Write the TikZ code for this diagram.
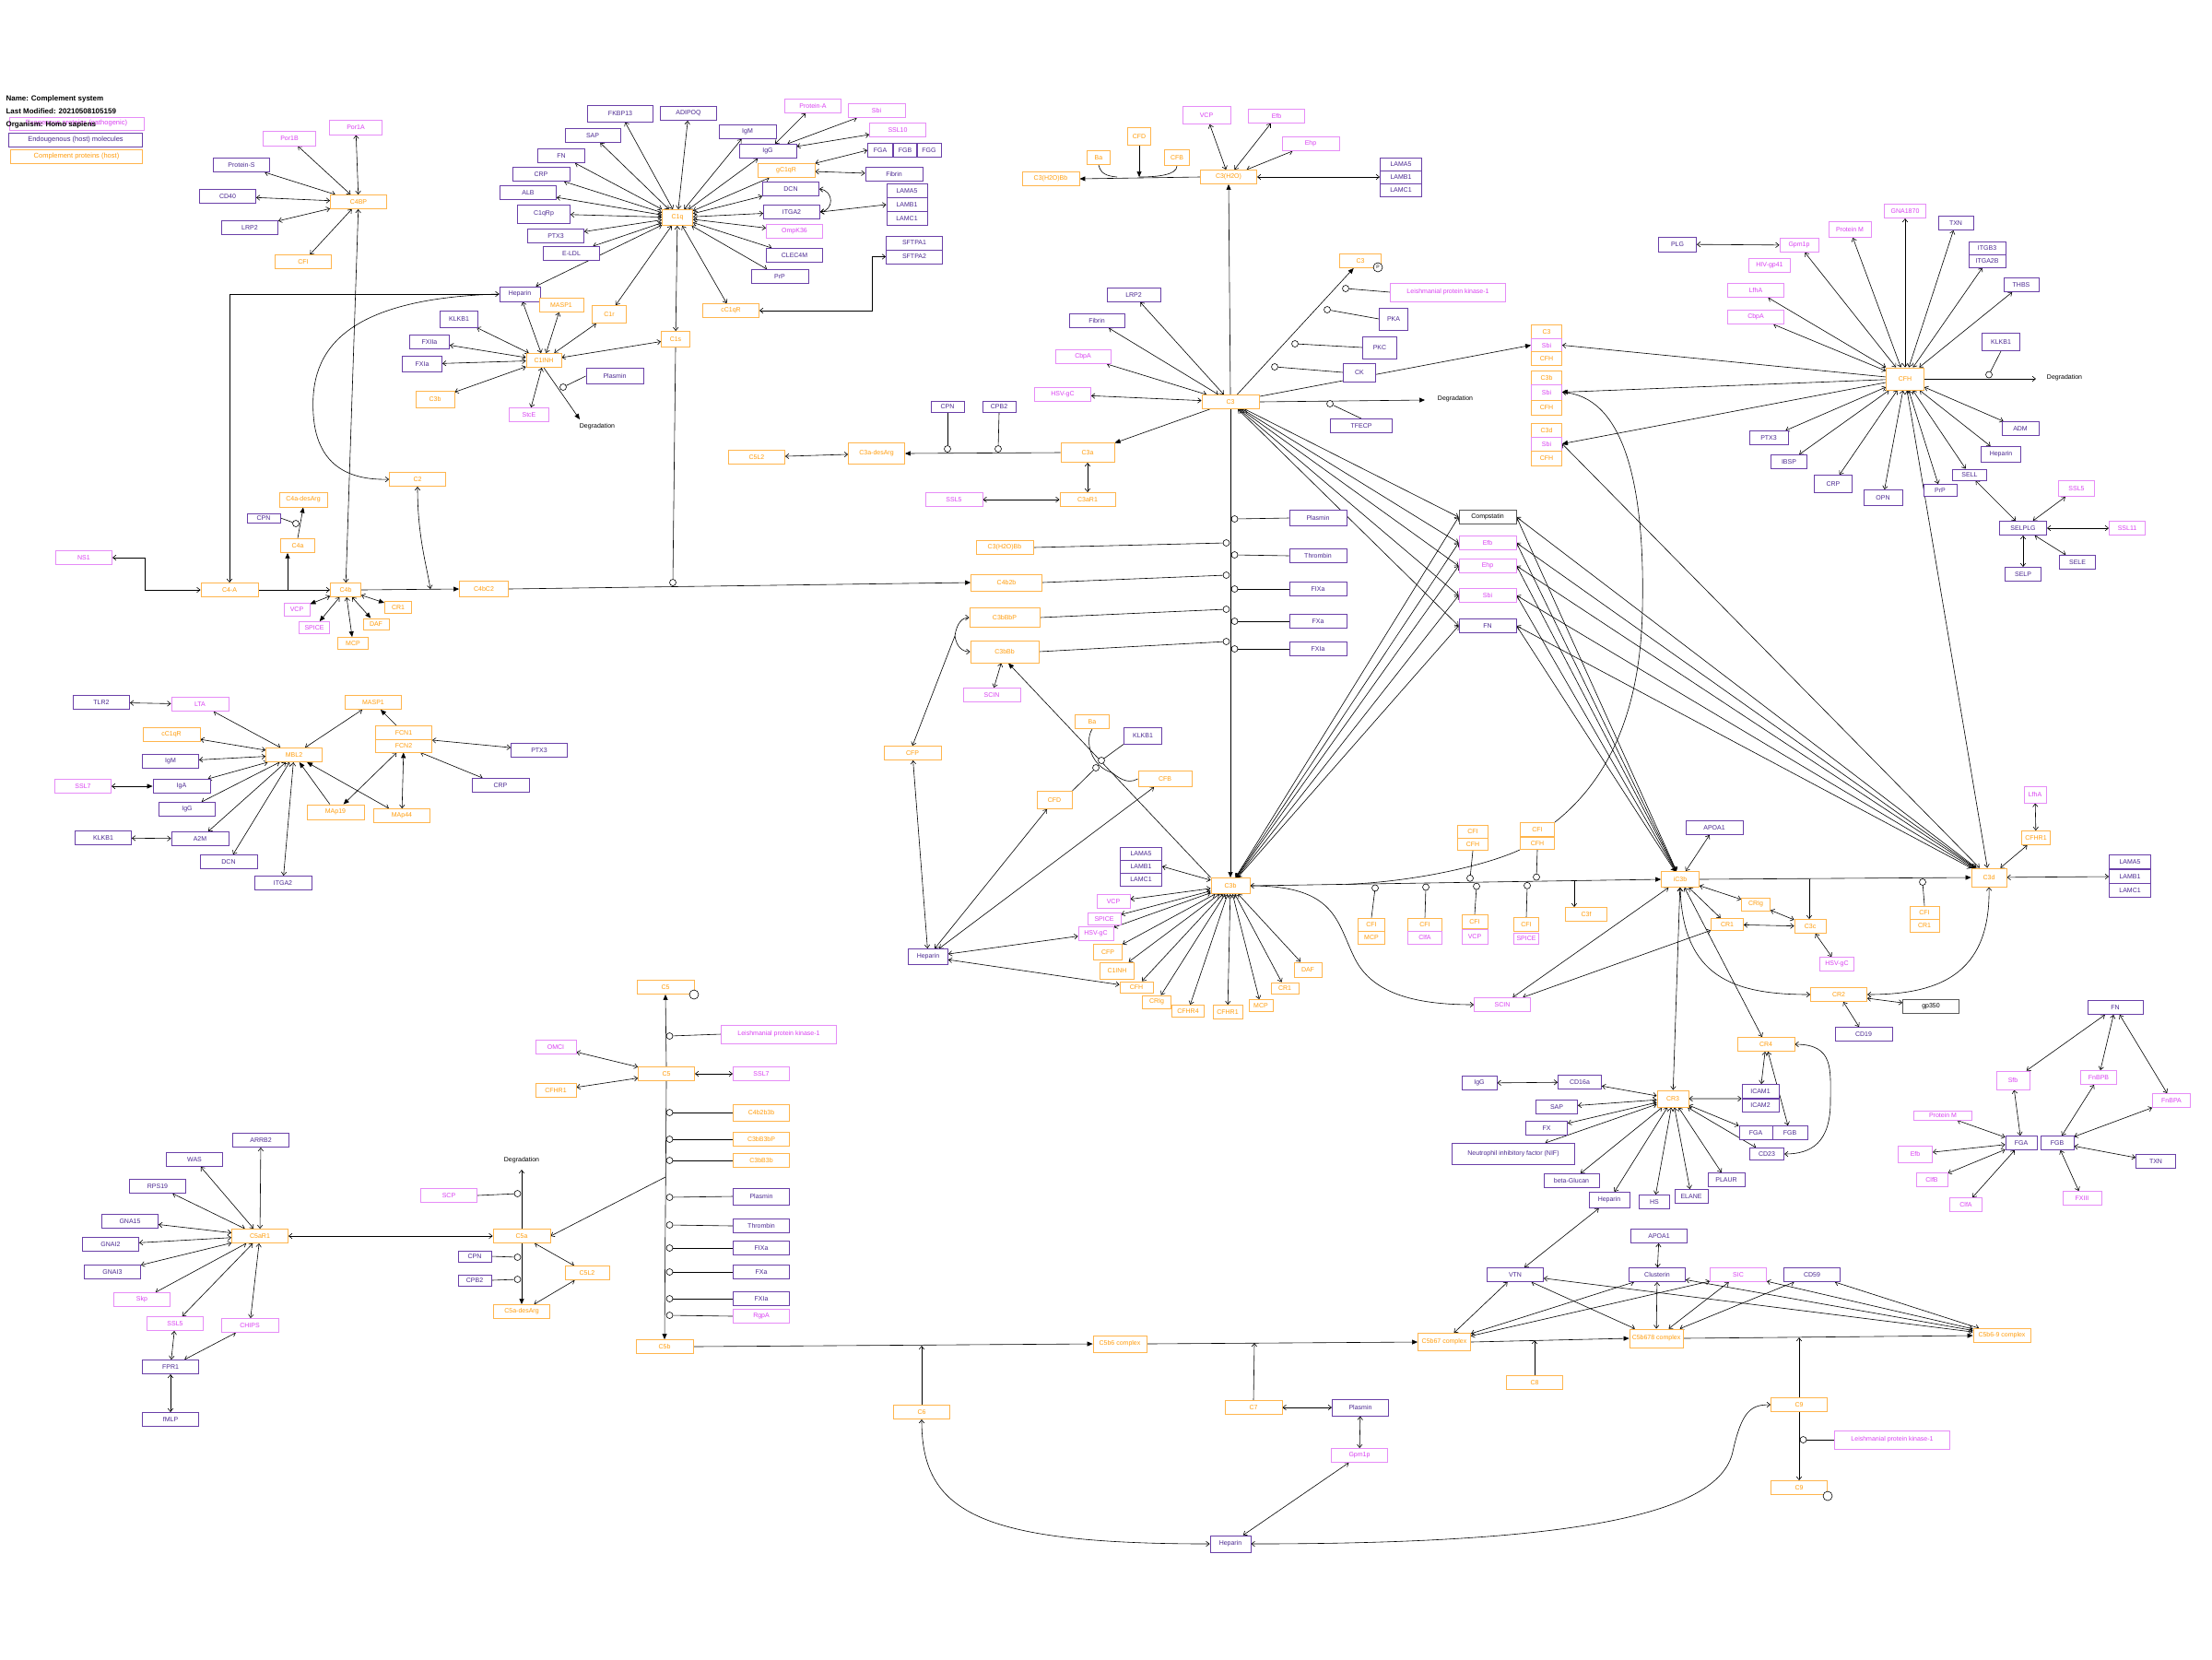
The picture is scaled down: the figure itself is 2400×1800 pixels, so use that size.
\documentclass[tikz,border=0pt]{standalone}
\usepackage{fontspec}
\setmainfont{Liberation Sans}
\usetikzlibrary{arrows.meta, backgrounds}
\definecolor{cpline}{HTML}{FFB54D}
\definecolor{cptext}{HTML}{FF9C0A}
\definecolor{hmline}{HTML}{6A40A8}
\definecolor{hmtext}{HTML}{4A2790}
\definecolor{pmline}{HTML}{E68CF7}
\definecolor{pmtext}{HTML}{D93FF2}
\tikzset{
    >={Straight Barb[length=3.5pt,width=5.5pt]}, % open arrow heads
    gene/.style={draw, rectangle, fill=white, inner sep=0pt, line width=0.9pt,
        minimum width=61pt, minimum height=15pt, font=\fontsize{7}{8}\selectfont},
    cp/.style={gene, draw=cpline, text=cptext}, % complement proteins (host)
    hm/.style={gene, draw=hmline, text=hmtext}, % endogenous (host) molecules
    pm/.style={gene, draw=pmline, text=pmtext}, % exogenous proteins
    ex/.style={gene, draw=black!65, text=black},
    wd/.style={minimum width=#1pt},
    ht/.style={minimum height=#1pt},
    catal/.style={circle, draw, fill=white, inner sep=0pt, minimum size=7pt, line width=0.6pt},
    lbl/.style={font=\fontsize{7}{8}\selectfont},
    interact/.style={<->, line width=0.6pt},
    convert/.style={-{Triangle[length=6pt,width=5pt]}, line width=0.6pt},
    bconv/.style={{Straight Barb[length=3.5pt,width=5.5pt]}-{Triangle[length=6pt,width=5pt]}, line width=0.6pt},
    stim/.style={->, line width=0.6pt},
    lnk/.style={-, line width=0.6pt},
}
\begin{document}
\begin{tikzpicture}[x=1pt, y=-1pt]
\useasboundingbox (0,0) rectangle (2400,1800);

% legend
\node[pm, wd=146, ht=14, font=\fontsize{7.5}{8}\selectfont] (leg1) at (83,134) {Exogenous proteins (pathogenic)};
\node[hm, wd=145, font=\fontsize{7.5}{8}\selectfont] (leg2) at (82,152) {Endougenous (host) molecules};
\node[cp, wd=143, font=\fontsize{7.5}{8}\selectfont] (leg3) at (83,170) {Complement proteins (host)};
\node[anchor=west, font=\bfseries\fontsize{8}{9}\selectfont] (tname) at (3,107) {Name: Complement system};
\node[anchor=west, font=\bfseries\fontsize{8}{9}\selectfont] (tmod) at (3,121) {Last Modified: 20210508105159};
\node[anchor=west, font=\bfseries\fontsize{8}{9}\selectfont] (torg) at (3,135) {Organism: Homo sapiens};

% C4BP
\node[pm, wd=57, ht=16] (por1a) at (386,138) {Por1A};
\node[pm, wd=57, ht=16] (por1b) at (314,150) {Por1B};
\node[hm] (prots) at (262,179) {Protein-S};
\node[hm] (cd40) at (247,213) {CD40};
\node[hm] (lrp2p) at (271,247) {LRP2};
\node[cp] (c4bp) at (389,219) {C4BP};
\node[cp] (cfip) at (329,284) {CFI};

% C1INH
\node[hm, wd=44, ht=16] (hepi) at (564,319) {Heparin};
\node[hm, wd=41, ht=18] (klkb1i) at (498,346) {KLKB1};
\node[hm, wd=43] (fxiiai) at (466,371) {FXIIa};
\node[hm, wd=43, ht=17] (fxiai) at (458,395) {FXIa};
\node[cp, wd=38] (c1inh) at (590,391) {C1INH};
\node[cp, wd=42, ht=18] (c3bi) at (472,433) {C3b};
\node[pm, wd=43] (stce) at (574,450) {StcE};
\node[cp, wd=48] (masp1i) at (609,331) {MASP1};
\node[cp, wd=37, ht=19] (c1r) at (661,341) {C1r};
\node[cp, wd=31, ht=17] (c1s) at (733,368) {C1s};
\node[hm, wd=62, ht=17] (plasi) at (667,408) {Plasmin};
\node[lbl] (dgr1) at (648,463) {Degradation};
\coordinate (dg1) at (629,455);
\node[catal] (k3) at (611,420) {};

% C1q
\node[cp, wd=33, ht=17] (c1q) at (735,236) {C1q};
\node[hm, wd=71, ht=18] (fkbp) at (673,123) {FKBP13};
\node[hm] (adipoq) at (747,123) {ADIPOQ};
\node[hm, wd=60] (sapq) at (643,147) {SAP};
\node[hm, wd=51] (fnq) at (609,169) {FN};
\node[hm, wd=62] (crpq) at (587,189) {CRP};
\node[hm] (albq) at (573,209) {ALB};
\node[hm, wd=57, ht=20] (c1qrp) at (590,232) {C1qRp};
\node[hm] (ptx3q) at (603,256) {PTX3};
\node[hm] (eldl) at (620,275) {E-LDL};
\node[hm, wd=62] (igmq) at (811,143) {IgM};
\node[hm, wd=62] (iggq) at (833,164) {IgG};
\node[pm] (prota) at (882,115) {Protein-A};
\node[pm, wd=62] (sbiq) at (951,120) {Sbi};
\node[pm] (ssl10) at (974,141) {SSL10};
\node[hm, wd=27] (fgaq) at (955,163) {FGA};
\node[hm, wd=25] (fgbq) at (982,163) {FGB};
\node[hm, wd=26] (fggq) at (1008,163) {FGG};
\node[cp, wd=62] (gc1qr) at (853,185) {gC1qR};
\node[hm, wd=62] (fibrq) at (970,189) {Fibrin};
\node[hm] (dcnq) at (858,205) {DCN};
\node[hm, wd=44, ht=14.5] (lama5q) at (984,207) {LAMA5};
\node[hm, wd=44, ht=14.5] (lamb1q) at (984,222) {LAMB1};
\node[hm, wd=44, ht=14.5] (lamc1q) at (984,237) {LAMC1};
\node[hm] (itga2q) at (859,230) {ITGA2};
\node[pm] (ompk) at (862,251) {OmpK36};
\node[hm] (clec) at (862,277) {CLEC4M};
\node[hm] (sftpa1) at (992,263.5) {SFTPA1};
\node[hm] (sftpa2) at (992,278.5) {SFTPA2};
\node[hm, wd=62] (prpq) at (846,300) {PrP};
\node[cp] (cc1qrq) at (793,337) {cC1qR};

% C4
\node[cp] (c2) at (453,520) {C2};
\node[cp, wd=52, ht=16] (c4ades) at (329,542) {C4a-desArg};
\node[hm, wd=36, ht=10] (cpn4) at (286,562) {CPN};
\node[cp, wd=37] (c4a) at (323,592) {C4a};
\node[pm] (ns1) at (91,605) {NS1};
\node[cp, wd=62] (c4x) at (249,640) {C4-A};
\node[cp, wd=33] (c4b) at (375,640) {C4b};
\node[cp, wd=53, ht=17] (c4bc2) at (525,639) {C4bC2};
\node[pm, wd=28, ht=14] (vcp4) at (322,661) {VCP};
\node[pm, wd=33, ht=13] (spice4) at (341,681) {SPICE};
\node[cp, wd=28, ht=12] (daf4) at (408,677) {DAF};
\node[cp, wd=29, ht=13] (cr14) at (432,659) {CR1};
\node[cp, wd=33, ht=13] (mcp4) at (383,698) {MCP};
\node[catal] (k1) at (321,568) {};
\node[catal] (k2) at (730,632) {};
\coordinate (j1) at (312,640);
\coordinate (j2) at (467,639);

% MBL2
\node[hm] (tlr2) at (110,762) {TLR2};
\node[pm, wd=62] (ltam) at (217,764) {LTA};
\node[cp] (masp1m) at (405,762) {MASP1};
\node[cp, wd=62] (cc1qrm) at (186,797) {cC1qR};
\node[cp] (fcn1) at (438,795) {FCN1};
\node[cp, ht=14] (fcn2) at (438,809) {FCN2};
\node[cp] (mbl2) at (319,819) {MBL2};
\node[hm] (igmm) at (185,826) {IgM};
\node[hm] (ptx3m) at (585,814) {PTX3};
\node[pm] (ssl7m) at (90,853) {SSL7};
\node[hm, wd=62] (igam) at (197,853) {IgA};
\node[hm, wd=62] (crpm) at (543,852) {CRP};
\node[hm] (iggm) at (203,878) {IgG};
\node[cp, wd=62, ht=16] (map19) at (364,881) {MAp19};
\node[cp] (map44) at (436,885) {MAp44};
\node[hm] (klkb1m) at (112,909) {KLKB1};
\node[hm, wd=62] (a2m) at (217,910) {A2M};
\node[hm, wd=62] (dcnm) at (248,935) {DCN};
\node[hm, wd=62] (itga2m) at (307,958) {ITGA2};

% C3(H2O)
\node[cp, wd=62] (c3h2obbt) at (1140,194) {C3(H2O)Bb};
\node[cp, wd=25] (bat) at (1192,171) {Ba};
\node[cp, wd=25, ht=19] (cfdt) at (1236,148) {CFD};
\node[cp, wd=27, ht=17] (cfbt) at (1277,171) {CFB};
\node[cp] (c3h2o) at (1333,192) {C3(H2O)};
\node[pm, wd=52, ht=19] (vcpt) at (1309,125) {VCP};
\node[pm] (efbt) at (1385,126) {Efb};
\node[pm, wd=62] (ehpt) at (1422,156) {Ehp};
\node[hm, wd=45, ht=14] (lama5t) at (1520,178) {LAMA5};
\node[hm, wd=45, ht=14] (lamb1t) at (1520,192) {LAMB1};
\node[hm, wd=45, ht=14] (lamc1t) at (1520,206) {LAMC1};
\coordinate (j3) at (1236,192);
\coordinate (j3b) at (1212,192);

% C3
\node[cp, wd=62] (c3) at (1335,436) {C3};
\node[hm, wd=58] (lrp2c) at (1230,320) {LRP2};
\node[hm, wd=60] (fibrc) at (1190,348) {Fibrin};
\node[pm, wd=60] (cbpac) at (1175,387) {CbpA};
\node[pm] (hsvc3) at (1153,428) {HSV-gC};
\node[cp, wd=45] (c3p) at (1476,283) {C3};
\node[catal, minimum size=10pt, font=\fontsize{5}{5}\selectfont] (pc) at (1495,290) {P};
\node[pm, wd=125, ht=20] (leishk) at (1571,317) {Leishmanial protein kinase-1};
\node[hm, wd=31, ht=24] (pka) at (1512,346) {PKA};
\node[hm, wd=37, ht=24] (pkc) at (1497,377) {PKC};
\node[hm, wd=35, ht=20] (ck) at (1475,404) {CK};
\node[hm, wd=67] (tfecp) at (1477,462) {TFECP};
\node[lbl] (dgr2) at (1579,433) {Degradation};
\coordinate (dg2) at (1546,434);
\node[catal] (k4) at (1460,313) {};
\node[catal] (k5) at (1440,336) {};
\node[catal] (k6) at (1405,373) {};
\node[catal] (k7) at (1383,398) {};
\node[catal] (k8) at (1443,438) {};
\node[cp, wd=33, ht=14.5] (c3s1) at (1678,360) {C3};
\node[pm, wd=33, ht=14.5] (sbis1) at (1678,374.5) {Sbi};
\node[cp, wd=33, ht=14.5] (cfhs1) at (1678,389) {CFH};
\node[cp, wd=33, ht=15] (c3bs2) at (1678,409.5) {C3b};
\node[pm, wd=33, ht=17] (sbis2) at (1678,425.5) {Sbi};
\node[cp, wd=33, ht=16] (cfhs2) at (1678,442) {CFH};
\node[cp, wd=33, ht=15] (c3ds3) at (1678,466.5) {C3d};
\node[pm, wd=33, ht=15] (sbis3) at (1678,481.5) {Sbi};
\node[cp, wd=33, ht=16] (cfhs3) at (1678,497) {CFH};
\node[ex, wd=62] (compst) at (1614,561) {Compstatin};
\node[pm, wd=62] (efbx) at (1614,589) {Efb};
\node[pm, wd=62] (ehpx) at (1614,614) {Ehp};
\node[pm, wd=62] (sbix) at (1614,646) {Sbi};
\node[hm, wd=62] (fnx) at (1614,679) {FN};
\node[hm, wd=62, ht=17] (plasx) at (1430,562) {Plasmin};
\node[hm, wd=62] (thrx) at (1430,603) {Thrombin};
\node[hm, wd=62] (fixax) at (1430,639) {FIXa};
\node[hm, wd=62] (fxax) at (1430,674) {FXa};
\node[hm, wd=62] (fxiax) at (1430,704) {FXIa};
\node[catal] (k11) at (1330.5,589) {};
\node[catal] (k12) at (1330.5,624) {};
\node[catal] (k13) at (1330.5,661) {};
\node[catal] (k14) at (1330.5,696) {};
\node[catal] (k15) at (1339.5,563) {};
\node[catal] (k16) at (1339.5,602) {};
\node[catal] (k17) at (1339.5,639) {};
\node[catal] (k18) at (1339.5,674) {};
\node[catal] (k19) at (1339.5,704) {};

% C3a and convertases
\node[cp, wd=58, ht=21] (c3a) at (1180,491) {C3a};
\node[cp, wd=61, ht=23] (c3ades) at (951,492) {C3a-desArg};
\node[cp] (c5l2a) at (821,496) {C5L2};
\node[hm, wd=36, ht=12] (cpn3) at (1028,441) {CPN};
\node[hm, wd=36, ht=12] (cpb23) at (1084,441) {CPB2};
\node[catal] (k9) at (1028,487) {};
\node[catal] (k10) at (1083,487) {};
\node[cp, wd=60] (c3ar1) at (1180,542) {C3aR1};
\node[pm, wd=62] (ssl5a) at (1035,542) {SSL5};
\node[cp, wd=62] (c3h2obbl) at (1090,594) {C3(H2O)Bb};
\node[cp, wd=77, ht=18] (c4b2b) at (1092,632) {C4b2b};
\node[cp, wd=76, ht=21] (c3bbbp) at (1090,670) {C3bBbP};
\node[cp, wd=74, ht=24] (c3bbb) at (1090,707) {C3bBb};
\node[pm, wd=62] (scinl) at (1076,754) {SCIN};
\node[cp, wd=62] (cfp) at (990,817) {CFP};
\node[cp, wd=37] (bal) at (1185,783) {Ba};
\node[hm, wd=41, ht=18] (klkb1b) at (1240,798) {KLKB1};
\node[cp, wd=58, ht=17] (cfbl) at (1264,845) {CFB};
\node[cp, wd=38, ht=19] (cfdl) at (1144,868) {CFD};
\node[hm, wd=43, ht=17] (hepb) at (1007,1038) {Heparin};
\node[catal] (k20) at (1195,825) {};
\node[catal] (k21) at (1189,833) {};
\coordinate (j4) at (1036,690);
\coordinate (j5) at (1206,838);

% C3b
\node[cp, wd=42, ht=17] (c3b) at (1335,961) {C3b};
\node[hm, wd=45, ht=14] (lama5b) at (1238,926) {LAMA5};
\node[hm, wd=45, ht=14] (lamb1b) at (1238,940) {LAMB1};
\node[hm, wd=45, ht=14] (lamc1b) at (1238,954) {LAMC1};
\node[pm, wd=36, ht=15] (vcpb) at (1208,978) {VCP};
\node[pm, wd=36, ht=13] (spiceb) at (1198,997) {SPICE};
\node[pm, wd=38] (hsvb) at (1189,1013) {HSV-gC};
\node[cp, wd=31, ht=17] (cfpb) at (1202,1033) {CFP};
\node[cp, wd=37, ht=18] (c1inhb) at (1212,1053) {C1INH};
\node[cp, wd=36, ht=12] (cfhb) at (1233,1071) {CFH};
\node[cp, wd=31, ht=14] (crigb) at (1255,1087) {CRIg};
\node[cp, wd=35, ht=13] (cfhr4) at (1289,1097) {CFHR4};
\node[cp, wd=32, ht=15] (cfhr1b) at (1332,1098) {CFHR1};
\node[cp, wd=26, ht=13] (mcpb) at (1368,1091) {MCP};
\node[cp, wd=30, ht=12] (cr1b) at (1394,1072) {CR1};
\node[cp, wd=30, ht=16] (dafb) at (1419,1052) {DAF};
\node[cp, wd=33, ht=14] (cfia1) at (1598,902) {CFI};
\node[cp, wd=33, ht=13] (cfha1) at (1598,916) {CFH};
\node[cp, wd=37, ht=15] (cfia2) at (1668,900) {CFI};
\node[cp, wd=37, ht=13] (cfha2) at (1668,915) {CFH};
\node[cp, wd=29, ht=14] (cfib1) at (1488,1003) {CFI};
\node[cp, wd=29, ht=14] (mcpb1) at (1488,1017) {MCP};
\node[cp, wd=37, ht=14] (cfib2) at (1546,1003) {CFI};
\node[pm, wd=37, ht=14] (clfab2) at (1546,1017) {ClfA};
\node[cp, wd=28, ht=15] (cfib3) at (1600,1000) {CFI};
\node[pm, wd=28, ht=16] (vcpb3) at (1600,1016) {VCP};
\node[cp, wd=27, ht=15] (cfib4) at (1656,1003) {CFI};
\node[pm, wd=27, ht=12] (spiceb4) at (1656,1018) {SPICE};
\node[cp, wd=45] (c3f) at (1721,992) {C3f};
\node[pm] (scinr) at (1630,1090) {SCIN};
\node[catal] (k22) at (1595,952.8) {};
\node[catal] (k23) at (1667,951.6) {};
\node[catal] (k24) at (1492,963.4) {};
\node[catal] (k25) at (1547,962.5) {};
\node[catal] (k26) at (1602,961.6) {};
\node[catal] (k27) at (1657,960.8) {};
\coordinate (j6) at (1708,956.3);
\coordinate (j7) at (1460,959.4);

% iC3b
\node[cp, wd=41, ht=17] (ic3b) at (1823,954) {iC3b};
\node[hm, wd=62] (apoa1i) at (1860,898) {APOA1};
\node[cp, wd=31, ht=14] (crigi) at (1905,981) {CRIg};
\node[cp, wd=35, ht=13] (cr1i) at (1874,1003) {CR1};
\node[cp, wd=34] (c3c) at (1964,1005) {C3c};
\node[pm, wd=37] (hsvi) at (1993,1046) {HSV-gC};
\node[cp, wd=32, ht=14] (cfic) at (2088,990) {CFI};
\node[cp, wd=32, ht=14] (cr1c) at (2088,1004) {CR1};
\node[catal] (k28) at (2086,957) {};
\node[cp, wd=38, ht=20] (c3d) at (2158,952) {C3d};
\node[cp, wd=31] (cfhr1d) at (2209,909) {CFHR1};
\node[pm, wd=24, ht=18] (lfhad) at (2208,862) {LfhA};
\node[hm, wd=45] (lama5d) at (2311,935) {LAMA5};
\node[hm, wd=45] (lamb1d) at (2311,951) {LAMB1};
\node[hm, wd=45] (lamc1d) at (2311,966) {LAMC1};
\node[cp] (cr2) at (1995,1079) {CR2};
\node[ex] (gp350) at (2095,1092) {gp350};
\node[hm, wd=62] (cd19) at (2022,1122) {CD19};
\node[cp, wd=62] (cr4) at (1916,1133) {CR4};
\coordinate (j8) at (1963,954);

% CFH
\node[cp, wd=41, ht=24] (cfh) at (2067,411) {CFH};
\node[hm, wd=41, ht=16] (plg) at (1820,265) {PLG};
\node[pm, wd=42] (gpm1h) at (1952,266) {Gpm1p};
\node[pm, wd=45] (hivgp) at (1920,288) {HIV-gp41};
\node[pm] (lfhah) at (1905,315) {LfhA};
\node[pm] (cbpah) at (1905,344) {CbpA};
\node[pm, wd=46, ht=17] (protmh) at (2007,249) {Protein M};
\node[pm, wd=45] (gna) at (2067,229) {GNA1870};
\node[hm, wd=38] (txnh) at (2122,242) {TXN};
\node[hm, wd=40, ht=14] (itgb3) at (2156,269) {ITGB3};
\node[hm, wd=40, ht=14] (itgaiib) at (2156,283) {ITGA2B};
\node[hm, wd=38] (thbs) at (2193,309) {THBS};
\node[hm, wd=41, ht=19] (klkb1h) at (2171,371) {KLKB1};
\node[lbl] (dgr3) at (2240,410) {Degradation};
\coordinate (dg3) at (2209,411);
\node[catal] (k29) at (2158,406.5) {};
\node[hm, wd=40] (adm) at (2192,465) {ADM};
\node[hm, wd=43, ht=17] (heph) at (2171,493) {Heparin};
\node[hm, wd=37, ht=12] (sell) at (2137,515) {SELL};
\node[hm, wd=36, ht=13] (prph) at (2105,532) {PrP};
\node[hm, wd=42, ht=17] (opn) at (2043,540) {OPN};
\node[hm, wd=41, ht=19] (crph) at (1989,525) {CRP};
\node[hm, wd=39] (ibsp) at (1941,501) {IBSP};
\node[hm, wd=42] (ptx3h) at (1919,475) {PTX3};
\node[hm, wd=51] (selplg) at (2195,573) {SELPLG};
\node[pm, wd=39, ht=17] (ssl5h) at (2253,530) {SSL5};
\node[pm, wd=39] (ssl11) at (2308,573) {SSL11};
\node[hm, wd=39] (sele) at (2254,610) {SELE};
\node[hm, wd=39] (selp) at (2195,623) {SELP};

% CR3
\node[cp, wd=34, ht=18] (cr3) at (1815,1192) {CR3};
\node[hm, wd=40] (icam1) at (1910,1184) {ICAM1};
\node[hm, wd=40, ht=14] (icam2) at (1910,1199) {ICAM2};
\node[hm, wd=36] (fgar) at (1905,1229) {FGA};
\node[hm, wd=38] (fgbr) at (1942,1229) {FGB};
\node[hm, wd=37, ht=13] (cd23) at (1917,1252) {CD23};
\node[hm, wd=40] (plaur) at (1873,1280) {PLAUR};
\node[hm, wd=36] (elane) at (1835,1298) {ELANE};
\node[hm, wd=33] (hs) at (1795,1304) {HS};
\node[hm, wd=44, ht=17] (hepr) at (1746,1302) {Heparin};
\node[hm, wd=60] (betag) at (1705,1281) {beta-Glucan};
\node[hm, wd=133, ht=23] (nif) at (1642,1252) {Neutrophil inhibitory factor (NIF)};
\node[hm, wd=45] (fxr) at (1678,1224) {FX};
\node[hm, wd=45] (sapr) at (1689,1201) {SAP};
\node[hm, wd=47] (cd16a) at (1714,1174) {CD16a};
\node[hm, wd=38] (iggr) at (1605,1175) {IgG};

% FN (bacterial binding)
\node[hm, wd=60] (fnf) at (2295,1093) {FN};
\node[pm, wd=36, ht=20] (sfb) at (2184,1172) {Sfb};
\node[pm, wd=39] (fnbpb) at (2277,1169) {FnBPB};
\node[pm, wd=41] (fnbpa) at (2356,1194) {FnBPA};
\node[pm, wd=63, ht=10] (protmf) at (2108,1210) {Protein M};
\node[hm, wd=34] (fgaf) at (2193,1240) {FGA};
\node[hm, wd=36] (fgbf) at (2232,1240) {FGB};
\node[pm, wd=37, ht=18] (efbf) at (2078,1252) {Efb};
\node[pm, wd=34] (clfb) at (2096,1280) {ClfB};
\node[pm, wd=35] (clfa) at (2133,1307) {ClfA};
\node[hm, wd=43] (txnf) at (2339,1260) {TXN};
\node[pm, wd=42] (fxiii) at (2259,1300) {FXIII};

% terminal complexes
\node[cp, wd=58, ht=18] (c5b6) at (1215,1458) {C5b6 complex};
\node[cp, wd=57, ht=19] (c5b67) at (1567,1456) {C5b67 complex};
\node[cp, wd=58, ht=20] (c5b678) at (1797,1452) {C5b678 complex};
\node[cp, wd=62] (c5b69) at (2172,1449) {C5b6-9 complex};
\node[cp] (c6) at (1000,1532) {C6};
\node[cp, wd=62] (c7) at (1360,1527) {C7};
\node[hm, ht=18] (plasl) at (1476,1527) {Plasmin};
\node[pm] (gpm1l) at (1475,1579) {Gpm1p};
\node[hm, wd=44, ht=18] (hepl) at (1335,1675) {Heparin};
\node[cp] (c8) at (1665,1500) {C8};
\node[cp] (c9a) at (1952,1524) {C9};
\node[pm, wd=125, ht=20] (leishn) at (2053,1562) {Leishmanial protein kinase-1};
\node[cp] (c9b) at (1952,1614) {C9};
\node[catal, minimum size=10pt] (c9c) at (1983,1623) {};
\node[catal] (k43) at (1956.5,1562) {};
\node[hm] (vtn) at (1644,1383) {VTN};
\node[hm] (apoa1l) at (1800,1341) {APOA1};
\node[hm] (clus) at (1798,1383) {Clusterin};
\node[pm] (sic) at (1886,1383) {SIC};
\node[hm] (cd59) at (1966,1383) {CD59};
\coordinate (j9) at (1000,1460);
\coordinate (j10) at (1361,1457);
\coordinate (j11) at (1665,1454);
\coordinate (j12) at (1952,1451);

% C5
\node[cp, wd=62] (c5t) at (722,1071) {C5};
\node[catal, minimum size=10pt] (c5c) at (753,1079) {};
\node[pm, wd=125, ht=20] (leishc) at (845,1122) {Leishmanial protein kinase-1};
\node[pm, wd=44] (omci) at (603,1136) {OMCI};
\node[cp] (c5) at (723,1165) {C5};
\node[pm] (ssl7c) at (826,1165) {SSL7};
\node[cp, wd=44] (cfhr1c) at (603,1183) {CFHR1};
\node[cp, ht=18] (c4b2b3b) at (826,1207) {C4b2b3b};
\node[cp] (c3bb3bp) at (826,1236) {C3bB3bP};
\node[cp] (c3bb3b) at (826,1259) {C3bB3b};
\node[hm, ht=18] (plasc) at (826,1298) {Plasmin};
\node[hm] (thrc) at (826,1330) {Thrombin};
\node[hm] (fixac) at (826,1354) {FIXa};
\node[hm] (fxac) at (826,1380) {FXa};
\node[hm] (fxiac) at (826,1409) {FXIa};
\node[pm] (rgpa) at (826,1428) {RgpA};
\node[cp, wd=62] (c5b) at (721,1461) {C5b};
\node[cp, wd=48] (c5l2b) at (637,1381) {C5L2};
\node[cp, wd=62] (c5a) at (566,1341) {C5a};
\node[cp] (c5ades) at (566,1423) {C5a-desArg};
\node[hm, wd=36, ht=12] (cpnc) at (515,1363) {CPN};
\node[hm, wd=36, ht=12] (cpb2c) at (515,1389) {CPB2};
\node[pm] (scp) at (487,1297) {SCP};
\node[lbl] (dgr4) at (566,1259) {Degradation};
\coordinate (dg4) at (566,1269);
\node[catal] (k30) at (726.5,1124) {};
\node[catal] (k31) at (726.5,1207) {};
\node[catal] (k32) at (726.5,1236) {};
\node[catal] (k33) at (726.5,1259) {};
\node[catal] (k34) at (726.5,1299) {};
\node[catal] (k35) at (726.5,1329) {};
\node[catal] (k36) at (726.5,1354) {};
\node[catal] (k37) at (726.5,1380) {};
\node[catal] (k38) at (726.5,1409) {};
\node[catal] (k39) at (726.5,1427) {};
\node[catal] (k40) at (561.5,1295) {};
\node[catal] (k41) at (561.5,1364) {};
\node[catal] (k42) at (561.5,1388) {};
\coordinate (j13) at (722,1277);
\node[cp] (c5ar1) at (282,1341) {C5aR1};
\node[hm] (arrb2) at (283,1237) {ARRB2};
\node[hm] (was) at (211,1258) {WAS};
\node[hm] (rps19) at (171,1287) {RPS19};
\node[hm] (gna15) at (141,1325) {GNA15};
\node[hm] (gnai2) at (120,1350) {GNAI2};
\node[hm] (gnai3) at (122,1380) {GNAI3};
\node[pm] (skp) at (154,1410) {Skp};
\node[pm] (ssl5c) at (190,1436) {SSL5};
\node[pm, wd=62] (chips) at (271,1438) {CHIPS};
\node[hm] (fpr1) at (185,1483) {FPR1};
\node[hm] (fmlp) at (185,1540) {fMLP};

\begin{pgfonlayer}{background}
% C4BP and C1 complex
\draw[interact] (c4bp) edge (por1a) edge (por1b) edge (prots) edge (cd40) edge (lrp2p) edge (cfip) edge (c4b);
\draw[interact] (c1inh) edge (hepi) edge (klkb1i) edge (fxiiai) edge (fxiai) edge (c3bi) edge (stce) edge (masp1i) edge (c1r) edge (c1s);
\draw[convert] (c1inh.south) -- (dg1);
\draw[lnk] (plasi.west) -- (k3);
\draw[interact] (c1q) edge (fkbp) edge (adipoq) edge (sapq) edge (fnq) edge (crpq) edge (albq) edge (c1qrp)
    edge (ptx3q) edge (eldl) edge (igmq) edge (iggq) edge (gc1qr) edge (dcnq) edge (itga2q) edge (ompk)
    edge (clec) edge (prpq) edge (cc1qrq) edge (c1r) edge (c1s) edge (hepi);
\draw[interact] (iggq) edge (prota) edge (sbiq) edge (ssl10);
\draw[interact] (gc1qr) edge (fgaq.west) edge (fibrq);
\draw[interact] (dcnq.east) .. controls (905,207) and (905,228) .. (itga2q.east);
\draw[interact] (itga2q.east) -- (lamb1q.west);
\draw[interact] (cc1qrq.east) -- (946,337) |- (sftpa2.west);

% C4 cleavage
\draw[interact] (c4x.west) -- (157,640) |- (ns1.east);
\draw[interact] (hepi.west) -| (c4x.north);
\draw[stim] (hepi.west) .. controls (360,324) and (336,390) .. (340,450) .. controls (344,510) and (385,521) .. (c2.west);
\draw[stim] (c4x.east) -- (c4b.west);
\draw[convert] (j1) -- (j1 |- c4a.south);
\draw[convert] (c4a.north) -- (c4ades.south);
\draw[lnk] (cpn4.east) -- (k1);
\draw[convert] (c4b.east) -- (c4bc2.west);
\draw[interact] (c2.south) .. controls (453,580) and (462,610) .. (j2);
\draw[bconv] (c4b) edge (vcp4) edge (spice4) edge (mcp4) edge (daf4) edge (cr14);
\draw[convert] (c4bc2.east) -- (c4b2b.west);
\draw[lnk] (c1s.south) -- (k2);

% MBL2 and ficolins
\draw[interact] (mbl2) edge (ltam) edge (cc1qrm) edge (igmm) edge (igam) edge (iggm) edge (a2m) edge (dcnm) edge (itga2m) edge (masp1m);
\draw[interact] (tlr2) -- (ltam);
\draw[interact] (klkb1m) -- (a2m);
\draw[bconv] (ssl7m) -- (igam);
\draw[convert] (map19) -- (mbl2);
\draw[bconv] (map44) -- (mbl2);
\draw[convert] (fcn1) -- (masp1m);
\draw[bconv] (fcn2) -- (map19);
\draw[bconv] (map44) -- (fcn2);
\draw[interact] (fcn1.south east) -- (ptx3m);
\draw[interact] (fcn2) -- (crpm);

% C3(H2O)
\draw[convert] (c3h2o.west) -- (c3h2obbt.east);
\draw[convert] (cfdt.south) -- (j3);
\draw[lnk] (cfbt.south) .. controls (1277,190) and (1255,192) .. (j3);
\draw[lnk] (bat.south) .. controls (1194,188) and (1200,191) .. (j3b);
\draw[interact] (c3h2o) edge (vcpt) edge (efbt) edge (ehpt);
\draw[interact] (c3h2o.east) -- (lamb1t.west);
\draw[convert] (c3.north) -- (c3h2o.south);

% C3
\draw[interact] (c3) edge (lrp2c) edge (fibrc) edge (cbpac) edge (hsvc3);
\draw[convert] (c3) -- (c3a);
\draw[convert] (c3) -- (c3p);
\draw[lnk] (leishk.west) -- (k4);
\draw[lnk] (pka.west) -- (k5);
\draw[lnk] (pkc.west) -- (k6);
\draw[lnk] (ck.west) -- (k7);
\draw[convert] (c3.east) -- (dg2);
\draw[lnk] (tfecp.north) -- (k8);
\draw[convert] (c3) -- (sbis1.west);
\draw[interact] (c3) edge (compst.west) edge (efbx.west) edge (ehpx.west) edge (sbix.west) edge (fnx.west);
\draw[convert] (c3a.west) -- (c3ades.east);
\draw[lnk] (cpn3.south) -- (k9);
\draw[lnk] (cpb23.south) -- (k10);
\draw[interact] (c3ades) -- (c5l2a);
\draw[interact] (c3a) -- (c3ar1);
\draw[interact] (c3ar1) -- (ssl5a);
\draw[convert] (c3.south) -- (c3b.north);
\draw[lnk] (c3h2obbl.east) -- (k11);
\draw[lnk] (c4b2b.east) -- (k12);
\draw[lnk] (c3bbbp.east) -- (k13);
\draw[lnk] (c3bbb.east) -- (k14);
\draw[lnk] (plasx.west) -- (k15);
\draw[lnk] (thrx.west) -- (k16);
\draw[lnk] (fixax.west) -- (k17);
\draw[lnk] (fxax.west) -- (k18);
\draw[lnk] (fxiax.west) -- (k19);

% C3b
\draw[interact] (c3b) edge (lamb1b.east) edge (vcpb) edge (spiceb) edge (hsvb) edge (cfpb) edge (c1inhb) edge (cfhb)
    edge (crigb) edge (cfhr4) edge (cfhr1b) edge (mcpb) edge (cr1b) edge (dafb);
\draw[interact] (c3b) edge (compst.west) edge (efbx.west) edge (ehpx.west) edge (sbix.west) edge (fnx.west);
\draw[interact] (hepb) edge (cfp) edge (cfdl) edge (cfbl) edge (hsvb) edge (cfhb);
\draw[stim] (j4) -- (cfp.north);
\draw[stim] (j4) .. controls (1038,676) and (1044,670) .. (c3bbbp.west);
\draw[stim] (j4) .. controls (1038,702) and (1044,707) .. (c3bbb.west);
\draw[interact] (c3bbb) -- (scinl);
\draw[convert] (c3b.north west) -- ([xshift=4pt]c3bbb.south);
\draw[lnk] (klkb1b.south west) -- (k20);
\draw[lnk] (cfdl.north east) -- (k21);
\draw[lnk] (bal.south) .. controls (1176,805) and (1185,832) .. (j5);
\draw[lnk] (cfbl.west) .. controls (1222,852) and (1212,842) .. (j5);
\draw[convert] (c3b.east) -- (ic3b.west);
\draw[lnk] (cfha1.south) -- (k22);
\draw[lnk] (cfha2.south) -- (k23);
\draw[lnk] (cfib1.north) -- (k24);
\draw[lnk] (cfib2.north) -- (k25);
\draw[lnk] (cfib3.north) -- (k26);
\draw[lnk] (cfib4.north) -- (k27);
\draw[stim] (j6) -- (j6 |- c3f.north);
\draw[lnk] (cfha2.south west) .. controls (1610,940) and (1530,957) .. (j7);
\draw[stim] (cfia2.north east) .. controls (1740,850) and (1780,780) .. (1782,660) .. controls (1785,520) and (1760,430) .. (sbis2.east);
\draw[interact] (c3b.east) .. controls (1450,961) and (1450,1000) .. (1470,1040) .. controls (1490,1080) and (1540,1090) .. (scinr.west);
\draw[interact] (ic3b) -- (scinr);
\draw[interact] (cr1i) -- (scinr);

% iC3b and C3d
\draw[interact] (ic3b) edge (compst.east) edge (efbx.east) edge (ehpx.east) edge (sbix.east) edge (fnx.east);
\draw[interact] (c3d) edge (compst.east) edge (efbx.east) edge (ehpx.east) edge (sbix.east) edge (fnx.east);
\draw[interact] (ic3b) edge (apoa1i) edge (crigi) edge (cr1i) edge (cr4) edge (cr3);
\draw[interact] (c3c) edge (crigi) edge (cr1i) edge (hsvi);
\draw[convert] (ic3b.east) -- (c3d.west);
\draw[stim] (j8) -- (j8 |- c3c.north);
\draw[lnk] (cfic.north) -- (k28);
\draw[interact] (c3d) edge (cfhr1d) edge (lamb1d.west);
\draw[interact] (cfhr1d) -- (lfhad);
\draw[interact] (ic3b.south) .. controls (1826,1060) and (1880,1079) .. (cr2.west);
\draw[interact] (c3d.south) .. controls (2160,1060) and (2100,1079) .. (cr2.east);
\draw[interact] (cr2) edge (gp350) edge (cd19);
\draw[interact] (cr4) edge (icam1) edge (fgbr);
\draw[interact] (cr4.east) .. controls (1990,1133) and (1986,1160) .. (1986,1195) .. controls (1986,1240) and (1965,1252) .. (cd23.east);

% CFH
\draw[interact] (cfh) edge (gpm1h) edge (lfhah) edge (cbpah) edge (protmh) edge (gna) edge (txnh) edge (itgaiib)
    edge (thbs) edge (adm) edge (heph) edge (sell) edge (prph) edge (opn) edge (crph) edge (ibsp) edge (ptx3h);
\draw[interact] (plg) -- (gpm1h);
\draw[interact] (sell) -- (selplg);
\draw[interact] (selplg) edge (ssl5h) edge (ssl11) edge (sele) edge (selp);
\draw[stim] (cfh.east) -- (dg3);
\draw[lnk] (klkb1h.south) -- (k29);
\draw[stim] (cfh) -- (sbis1.east);
\draw[convert] (cfh) -- (sbis2.east);
\draw[convert] (cfh) -- (sbis3.east);
\draw[interact] (cfh) -- (c3d);
\draw[interact] (c3d) -- (sbis3.east);

% CR3
\draw[interact] (cr3) edge (icam1.south west) edge (fgar) edge (cd23) edge (plaur) edge (elane) edge (hs) edge (hepr)
    edge (betag) edge (nif) edge (fxr) edge (sapr) edge (cd16a);
\draw[interact] (iggr) -- (cd16a);

% FN and fibrinogen binding
\draw[interact] (fnf) edge (sfb) edge (fnbpb) edge (fnbpa);
\draw[interact] (fgaf) edge (sfb) edge (protmf) edge (efbf) edge (clfb) edge (clfa);
\draw[interact] (fgbf) edge (fnbpb) edge (fnbpa) edge (txnf) edge (fxiii);

% membrane attack complex
\draw[convert] (c5b.east) -- (c5b6.west);
\draw[convert] (c5b6.east) -- (c5b67.west);
\draw[convert] (c5b67.east) -- (c5b678.west);
\draw[convert] (c5b678.east) -- (c5b69.west);
\draw[stim] (c6.north) -- (j9);
\draw[stim] (c7.north) -- (j10);
\draw[stim] (c8.north) -- (j11);
\draw[stim] (c9a.north) -- (j12);
\draw[stim] (c9a.south) -- (c9b.north);
\draw[lnk] (leishn.west) -- (k43);
\draw[interact] (c7) -- (plasl);
\draw[interact] (plasl) -- (gpm1l);
\draw[interact] (gpm1l) -- (hepl);
\draw[interact] (c6.south) .. controls (1000,1640) and (1060,1675) .. (hepl.west);
\draw[interact] (hepl.east) .. controls (1700,1675) and (1865,1645) .. (1880,1575) .. controls (1890,1530) and (1900,1524) .. (c9a.west);
\draw[interact] (vtn) edge (hepr) edge (c5b67) edge (c5b678) edge (c5b69);
\draw[interact] (clus) edge (apoa1l) edge (c5b67) edge (c5b678) edge (c5b69);
\draw[interact] (sic) edge (c5b67) edge (c5b678) edge (c5b69);
\draw[interact] (cd59) edge (c5b678) edge (c5b69);

% C5
\draw[interact] (c5) edge (omci) edge (cfhr1c) edge (ssl7c);
\draw[convert] (c5.north) -- (c5t.south);
\draw[lnk] (leishc.west) -- (k30);
\draw[convert] (c5.south) -- (c5b.north);
\draw[lnk] (c4b2b3b.west) -- (k31);
\draw[lnk] (c3bb3bp.west) -- (k32);
\draw[lnk] (c3bb3b.west) -- (k33);
\draw[lnk] (plasc.west) -- (k34);
\draw[lnk] (thrc.west) -- (k35);
\draw[lnk] (fixac.west) -- (k36);
\draw[lnk] (fxac.west) -- (k37);
\draw[lnk] (fxiac.west) -- (k38);
\draw[lnk] (rgpa.west) -- (k39);
\draw[stim] (j13) -- (c5a.east);
\draw[interact] (c5a) -- (c5ar1);
\draw[convert] (c5a.south) -- (c5ades.north);
\draw[lnk] (cpnc.east) -- (k41);
\draw[lnk] (cpb2c.east) -- (k42);
\draw[stim] (c5a.north) -- (dg4);
\draw[lnk] (scp.east) -- (k40);
\draw[interact] (c5l2b) edge (c5a) edge (c5ades);
\draw[interact] (c5ar1) edge (arrb2) edge (was) edge (rps19) edge (gna15) edge (gnai2) edge (gnai3) edge (skp) edge (ssl5c) edge (chips);
\draw[interact] (fpr1) edge (ssl5c) edge (chips) edge (fmlp);
\end{pgfonlayer}
\end{tikzpicture}
\end{document}
